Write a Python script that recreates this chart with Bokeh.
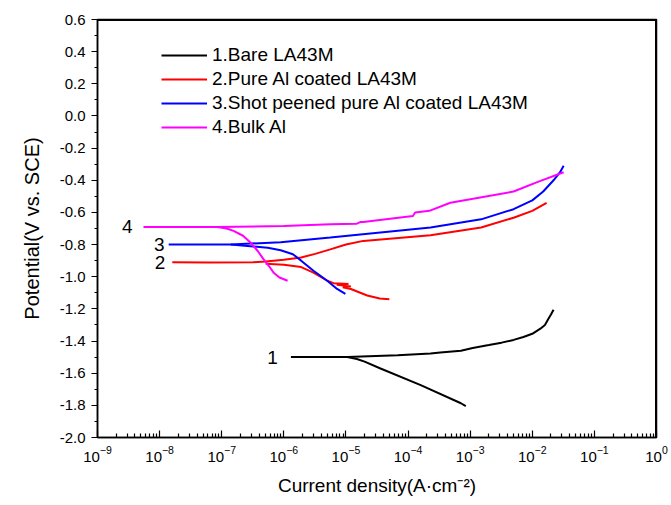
from bokeh.plotting import figure
from bokeh.models import (FixedTicker, PrintfTickFormatter, Span,
                          Legend, LegendItem, Range1d, ColumnDataSource)
from bokeh.core.properties import value
from bokeh.embed import file_html
from bokeh.resources import INLINE

# ---------------- data ----------------
names = ["1.Bare LA43M", "2.Pure Al coated LA43M",
         "3.Shot peened pure Al coated LA43M", "4.Bulk Al"]
tags = ["1", "2", "3", "4"]
colors = ["#000000", "#ff0000", "#0000ff", "#ff00ff"]

# 1. Bare LA43M
bare_an_i = [1.3e-6, 3.2e-6, 1.05e-5, 6.8e-5, 2.3e-4, 3.3e-4, 7.1e-4, 1.1e-3,
             2.0e-3, 3.2e-3, 5.0e-3, 7.2e-3, 1.0e-2, 1.35e-2, 1.6e-2, 1.8e-2,
             2.0e-2, 2.2e-2]
bare_an_E = [-1.50, -1.50, -1.499, -1.488, -1.478, -1.472, -1.46, -1.443,
             -1.425, -1.41, -1.393, -1.375, -1.355, -1.323, -1.30, -1.265,
             -1.235, -1.205]
bare_ca_i = [1.05e-5, 1.5e-5, 2.0e-5, 3.6e-5, 1.6e-4, 7.1e-4, 8.5e-4]
bare_ca_E = [-1.50, -1.512, -1.528, -1.571, -1.674, -1.787, -1.805]

# 2. Pure Al coated LA43M
pure_an_i = [1.6e-8, 6.3e-8, 3.2e-7, 5.1e-7, 1.0e-6, 1.9e-6, 3.2e-6, 5.6e-6,
             1.0e-5, 1.9e-5, 2.3e-4, 1.5e-3, 5.0e-3, 1.0e-2, 1.7e-2]
pure_an_E = [-0.91, -0.912, -0.91, -0.905, -0.895, -0.88, -0.858, -0.83,
             -0.80, -0.777, -0.742, -0.694, -0.633, -0.59, -0.54]
pure_ca_i = [5.1e-7, 1.0e-6, 1.9e-6, 3.0e-6, 5.0e-6, 6.3e-6, 1.1e-5, 7.1e-6,
             1.2e-5, 8.9e-6, 1.2e-5, 2.2e-5, 3.5e-5, 5.0e-5]
pure_ca_E = [-0.92, -0.925, -0.94, -0.975, -1.025, -1.04, -1.045, -1.05,
             -1.06, -1.065, -1.076, -1.117, -1.135, -1.14]

# 3. Shot peened pure Al coated LA43M
shot_an_i = [1.4e-8, 1.0e-7, 1.4e-7, 8.9e-7, 5.6e-6, 2.3e-4, 1.5e-3, 5.0e-3,
             1.0e-2, 1.5e-2, 2.2e-2, 2.8e-2, 3.2e-2]
shot_an_E = [-0.80, -0.80, -0.80, -0.785, -0.756, -0.694, -0.643, -0.58,
             -0.525, -0.47, -0.40, -0.35, -0.31]
shot_ca_i = [1.4e-7, 2.9e-7, 5.5e-7, 8.9e-7, 1.4e-6, 1.9e-6, 3.0e-6, 5.0e-6,
             7.2e-6, 9.8e-6]
shot_ca_E = [-0.80, -0.81, -0.82, -0.835, -0.86, -0.90, -0.963, -1.025,
             -1.076, -1.107]

# 4. Bulk Al
bulk_an_i = [5.5e-9, 8.5e-8, 1.0e-6, 5.6e-6, 1.5e-5, 1.7e-5, 1.9e-5, 1.2e-4,
             1.3e-4, 2.2e-4, 4.8e-4, 5.0e-3, 1.23e-2, 3.2e-2]
bulk_an_E = [-0.69, -0.69, -0.685, -0.674, -0.67, -0.66, -0.66, -0.622,
             -0.60, -0.59, -0.54, -0.47, -0.41, -0.35]
bulk_ca_i = [8.5e-8, 1.2e-7, 1.55e-7, 2.2e-7, 2.9e-7, 3.8e-7, 4.7e-7, 5.8e-7,
             6.8e-7, 8.5e-7, 1.15e-6]
bulk_ca_E = [-0.69, -0.70, -0.715, -0.745, -0.787, -0.84, -0.89, -0.935,
             -0.973, -1.005, -1.025]

anodic = [(bare_an_i, bare_an_E), (pure_an_i, pure_an_E),
          (shot_an_i, shot_an_E), (bulk_an_i, bulk_an_E)]
cathodic = [(bare_ca_i, bare_ca_E), (pure_ca_i, pure_ca_E),
            (shot_ca_i, shot_ca_E), (bulk_ca_i, bulk_ca_E)]

x_major = [1e-9, 1e-8, 1e-7, 1e-6, 1e-5, 1e-4, 1e-3, 1e-2, 1e-1, 1e0]
y_major = [-2.0, -1.8, -1.6, -1.4, -1.2, -1.0, -0.8, -0.6, -0.4, -0.2,
           0.0, 0.2, 0.4, 0.6]

# ---------------- figure ----------------
FONT = "Liberation Sans"
xr = Range1d(x_major[0], x_major[-1])
yr = Range1d(y_major[0], y_major[-1])
p = figure(width=671, height=505, x_axis_type="log",
           x_range=xr, y_range=yr,
           output_backend="svg", toolbar_location=None,
           min_border_left=97, min_border_right=15,
           min_border_top=19, min_border_bottom=68)
p.grid.visible = False
p.outline_line_color = "black"
p.outline_line_width = 1.5
p.background_fill_color = "white"
p.border_fill_color = "white"

# frame box: top and right edges, taken from the axis ranges
p.add_layout(Span(location=yr.end, dimension="width", line_color="black",
                  line_width=3, level="overlay"))
p.add_layout(Span(location=xr.end, dimension="height", line_color="black",
                  line_width=3, level="overlay"))

x_minor = [m * d for d in x_major[:-1] for m in range(2, 10)]
p.xaxis.ticker = FixedTicker(ticks=x_major, minor_ticks=x_minor)
p.xaxis.major_tick_in = 7
p.xaxis.major_tick_out = 0
p.xaxis.minor_tick_in = 4
p.xaxis.minor_tick_out = 0
p.xaxis.axis_label = "Current density(A\u00b7cm\u207b\u00b2)"

y_minor = [v + 0.1 for v in y_major[:-1]]
p.yaxis.ticker = FixedTicker(ticks=y_major, minor_ticks=y_minor)
p.yaxis.formatter = PrintfTickFormatter(format="%.1f")
p.yaxis.major_tick_out = 6
p.yaxis.major_tick_in = 0
p.yaxis.minor_tick_out = 3
p.yaxis.minor_tick_in = 0
p.yaxis.axis_label = "Potential(V vs. SCE)"

for ax in (p.xaxis[0], p.yaxis[0]):
    ax.axis_line_width = 1.5
    ax.major_tick_line_width = 1.2
    ax.minor_tick_line_width = 1.2
    ax.major_label_text_font = FONT
    ax.major_label_text_font_size = "15px"
    ax.major_label_text_color = "black"
    ax.axis_label_text_font = FONT
    ax.axis_label_text_font_style = "normal"
    ax.axis_label_text_color = "black"
p.xaxis.axis_label_text_font_size = "19px"
p.yaxis.axis_label_text_font_size = "20px"
p.yaxis.axis_label_standoff = 14
p.xaxis.axis_label_standoff = 10
p.yaxis.major_label_standoff = 6
p.xaxis.major_label_standoff = 8

items = []
gaps = [13, 7, 4, 11]
for k in range(4):
    ai, aE = anodic[k]
    ci, cE = cathodic[k]
    r = p.line(ai, aE, line_color=colors[k], line_width=2)
    p.line(ci, cE, line_color=colors[k], line_width=2)
    items.append(LegendItem(label=names[k], renderers=[r]))
    src = ColumnDataSource(dict(x=[ai[0]], y=[aE[0]], t=[tags[k]]))
    p.text(x="x", y="y", text="t", source=src, text_align="right",
           text_baseline="middle", x_offset=-gaps[k], text_font=value(FONT),
           text_font_size="19px", text_color="black")

legend = Legend(items=items, location=(64, 298), border_line_color=None,
                background_fill_alpha=0, padding=0, margin=0, spacing=0,
                label_height=24, glyph_height=24, glyph_width=46,
                label_standoff=5, label_text_font=FONT,
                label_text_font_size="19px", label_text_color="black")
p.add_layout(legend, "center")

open("out.html", "w").write(file_html(p, INLINE))
